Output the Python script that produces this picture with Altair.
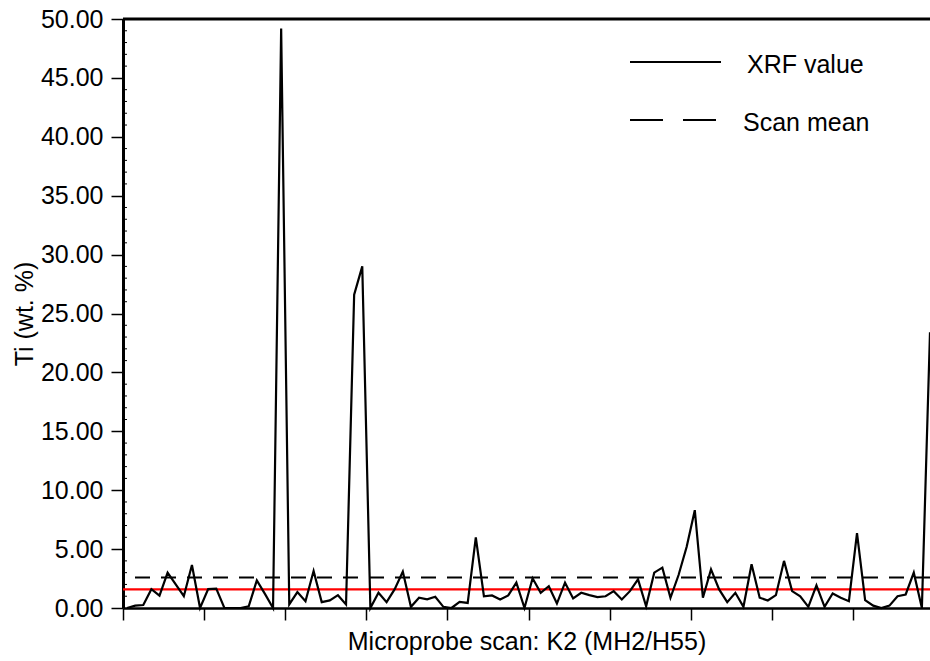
import altair as alt
import pandas as pd

# Ti concentration along the microprobe scan (wt. %), one value per step
ti_values = [
    0.0, 0.2, 0.25, 1.6, 1.05, 3.0, 2.0, 1.0, 3.65, 0.0,
    1.6, 1.65, 0.0, 0.0, 0.0, 0.15, 2.35, 1.2, 0.0, 49.2,
    0.3, 1.35, 0.58, 3.14, 0.5, 0.65, 1.09, 0.3, 26.6, 29.0,
    0.0, 1.3, 0.5, 1.6, 3.09, 0.1, 0.87, 0.73, 0.95, 0.1,
    0.0, 0.52, 0.43, 6.0, 1.0, 1.07, 0.73, 1.07, 2.15, 0.0,
    2.52, 1.29, 1.85, 0.38, 2.15, 0.81, 1.29, 1.09, 0.92, 1.0,
    1.43, 0.73, 1.43, 2.43, 0.15, 3.0, 3.43, 0.87, 2.8, 5.2,
    8.3, 0.87, 3.28, 1.58, 0.5, 1.29, 0.1, 3.71, 0.87, 0.64,
    1.09, 4.0, 1.43, 1.0, 0.1, 1.92, 0.1, 1.23, 0.87, 0.58,
    6.36, 0.67, 0.2, 0.0, 0.2, 1.0, 1.15, 3.0, 0.0, 23.4,
]
scan_step = list(range(len(ti_values)))
reference_level = [1.58]          # red reference line
y_major = [0, 5, 10, 15, 20, 25, 30, 35, 40, 45, 50]
y_minor = [v for v in range(1, 50) if v % 5 != 0]
x_ticks = [-0.5 + 10 * k for k in range(10)]

FONT = "Liberation Sans"
FS = 25
W, H = 807, 589

df = pd.DataFrame({"step": scan_step, "ti": ti_values})
one = pd.DataFrame({"k": [0]})

x_scale = alt.Scale(domain=[-0.5, 99.0], nice=False, zero=False)
y_scale = alt.Scale(domain=[0, 50], nice=False)

x_enc = alt.X(
    "step:Q",
    scale=x_scale,
    axis=alt.Axis(
        values=x_ticks, labels=False, grid=False, tickSize=12, tickWidth=1.5,
        tickColor="black", domainColor="black", domainWidth=2.5,
        title="Microprobe scan: K2 (MH2/H55)", titleFont=FONT, titleFontSize=FS,
        titleFontWeight="normal", titleColor="black", titleBaseline="middle",
        titleY=33,
    ),
)
y_enc = alt.Y(
    "ti:Q",
    scale=y_scale,
    axis=alt.Axis(
        values=y_major, format=".2f", grid=False, tickSize=12, tickWidth=1.5,
        tickColor="black", domainColor="black", domainWidth=3,
        labelFont=FONT, labelFontSize=FS, labelColor="black", labelPadding=8,
        title="Ti (wt. %)", titleFont=FONT, titleFontSize=FS,
        titleFontWeight="normal", titleColor="black", titleAngle=-90,
        titleBaseline="middle", titleAlign="center", titleX=-99, titleY=H / 2,
    ),
)

xrf_line = alt.Chart(df).mark_line(color="black", strokeWidth=2.2).encode(x=x_enc, y=y_enc)

ref_rule = alt.Chart(pd.DataFrame({"level": reference_level})).mark_rule(
    color="#ff0000", strokeWidth=2.2
).encode(y=alt.Y("level:Q", scale=y_scale))

mean_rule = alt.Chart(df).transform_aggregate(
    mean_ti="mean(ti)"
).mark_rule(color="black", strokeWidth=2.2, strokeDash=[15, 11]).encode(
    y=alt.Y("mean_ti:Q", scale=y_scale)
)

top_border = alt.Chart(one).mark_rule(color="black", strokeWidth=3).encode(
    y=alt.datum(50, scale=y_scale)
)

minor_ticks = alt.Chart(pd.DataFrame({"m": y_minor})).mark_rule(
    color="black", strokeWidth=1
).encode(x=alt.value(0), x2=alt.value(4), y=alt.Y("m:Q", scale=y_scale))

# legend drawn inside the plot, top right
leg_solid = alt.Chart(one).mark_rule(color="black", strokeWidth=2.2).encode(
    x=alt.value(507), x2=alt.value(598), y=alt.value(43)
)
leg_dash = alt.Chart(one).mark_rule(color="black", strokeWidth=2.2, strokeDash=[33, 20]).encode(
    x=alt.value(507), x2=alt.value(594), y=alt.value(101)
)
leg_txt1 = alt.Chart(one).mark_text(
    text="XRF value", font=FONT, fontSize=FS, align="left", baseline="middle", color="black"
).encode(x=alt.value(624), y=alt.value(46))
leg_txt2 = alt.Chart(one).mark_text(
    text="Scan mean", font=FONT, fontSize=FS, align="left", baseline="middle", color="black"
).encode(x=alt.value(620), y=alt.value(104))

chart = alt.layer(
    ref_rule, mean_rule, xrf_line, top_border, minor_ticks,
    leg_solid, leg_dash, leg_txt1, leg_txt2,
).properties(
    width=W, height=H,
    autosize=alt.AutoSizeParams(type="none"),
    padding={"left": 123, "top": 19, "right": 0, "bottom": 53},
    background="white",
).configure_view(stroke=None)

chart.save("out.html", embed_options={"renderer": "svg", "actions": False})
